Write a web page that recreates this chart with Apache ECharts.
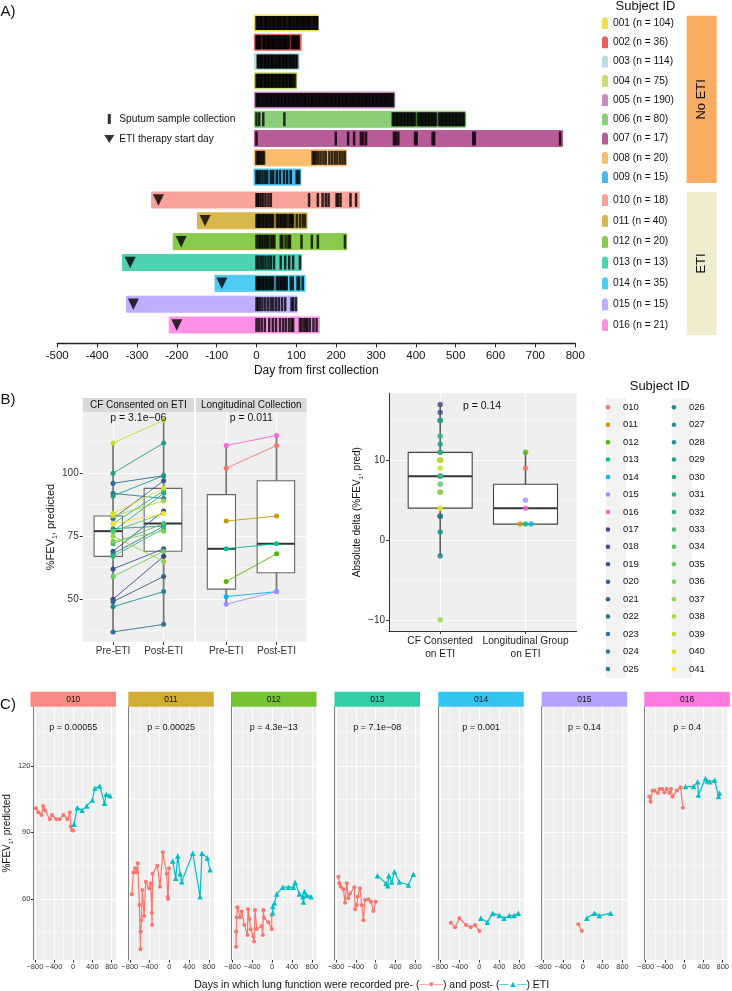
<!DOCTYPE html>
<html><head><meta charset="utf-8">
<script src="https://cdn.jsdelivr.net/npm/echarts@6/dist/echarts.min.js"></script>
<style>html,body{margin:0;padding:0;background:#fff}#c{width:732px;height:991px}</style>
</head><body><div id="c"></div>
<script>
// ================= DATA =================
// ---- Panel A: sampling timeline ----
const idsA1 = ['001','002','003','004','005','006','007','008','009'];
const idsA2 = ['010','011','012','013','014','015','016'];
const nA1 = [104,36,114,75,190,80,17,20,15];
const nA2 = [18,40,20,13,35,15,21];
const barStartA1 = [-5,-5,-5,-5,-5,-5,-5,-6,-6];
const barEndA1 = [154,112,107,101,347,525,768,225,111];
const barStartA2 = [-263,-148,-209,-336,-104,-326,-219];
const barEndA2 = [258,127,226,113,122,102,158];
const etiStartA2 = [-246,-129,-189,-317,-87,-309,-200];
const days001 = [0,3,5,9,12,14,18,21,24,26,30,33,35,39,42,45,47,51,54,57,60,62,66,69,71,74,78,81,84,86,90,93,95,99,102,105,108,111,114,117,120,123,126,129,132,135,138,142,145,148,151,153];
const days002 = [0,2,5,8,10,16,19,22,26,29,32,35,39,42,45,48,52,55,58,61,65,68,71,74,78,81,88,91,94,97,100,103,106];
const days003 = [3,5,9,12,14,18,21,23,27,30,32,36,39,41,45,48,50,54,57,59,63,66,68,72,75,77,81,84,86,90,93,95,99,102];
const days004 = [0,3,5,9,12,14,18,21,23,27,30,32,36,39,41,45,48,50,54,57,59,63,66,68,72,75,77,81,84,86,90,93,97];
const days005 = [0,3,6,10,13,17,20,23,27,30,34,37,40,44,47,51,54,57,61,64,68,71,74,78,81,85,88,91,95,98,102,105,108,112,115,119,122,125,129,132,136,139,142,146,149,153,156,159,163,166,170,173,176,180,183,187,190,193,197,200,204,207,210,214,217,221,224,227,231,234,238,241,244,248,251,255,258,261,265,268,272,275,278,282,285,289,292,295,299,302,306,309,312,316,319,323,326,329,333,336,340,343];
const days006 = [0,7,17,70,342,345,349,352,356,359,363,366,370,373,377,380,384,387,391,394,398,405,409,412,416,419,423,426,430,433,437,440,444,447,451,458,462,465,469,472,476,479,483,486,490,493,497,500,504,507,511,514,518,521];
const days007 = [0,199,230,245,262,268,275,345,350,356,398,402,442,446,544,548,762];
const days008 = [0,4,7,11,15,19,141,145,149,155,161,168,174,183,190,197,203,210,216,222];
const days009 = [0,4,9,15,21,27,36,42,51,59,69,77,86,101,107];
const days010 = [0,3,7,12,17,23,30,36,132,154,166,174,181,201,205,211,236,250];
const days011 = [0,3,6,9,13,16,20,24,27,31,35,38,42,51,54,58,62,65,69,72,76,82,86,89,92,101,109,116,122];
const days012 = [0,5,9,13,17,22,26,30,36,41,45,61,65,73,80,84,113,139,154,222];
const days013 = [0,5,11,17,23,30,36,44,61,72,82,92,109];
const days014 = [0,3,6,9,13,16,20,24,27,31,35,38,42,51,54,58,62,65,69,72,76,86,91,103,107,116];
const days015 = [0,4,9,15,22,29,36,42,49,56,64,72,88,92,99];
const days016 = [0,6,13,21,32,41,49,59,67,74,82,88,92,109,113,119,124,128,134,143,151];
const daysA1 = [days001,days002,days003,days004,days005,days006,days007,days008,days009];
const daysA2 = [days010,days011,days012,days013,days014,days015,days016];
const xTicksA = [-500,800];

// ---- Panel B ----
const idsCF = ['017','018','019','020','021','022','023','024','025','026','027','028','029','030','031','032','033','034','035','036','037','038','039','040','041'];
const preCF  = [50,69,62,82,49,96,37,92,68,47,78,91,100,77,80,67,72,77,59,73,75,83,112,84,80];
const postCF = [67,85,70,97,59,99,40,90,79,53,79,99,112,92,93,78,80,84,69,77,65,89,121,94,84];
const idsLong = ['010','011','012','013','014','015','016'];
const preLong  = [102,81,57,70,51,48,111];
const postLong = [111,83,68,72,53,53,115];
const boxCFPre = [37,67,77,83,112];
const boxCFPost = [40,69,80,94,121];
const boxLongPre = [48,54,70,91.5,111];
const boxLongPost = [53,60.5,72,97,115];
const boxDeltaCF = [-2,4,8,11,17];
const boxDeltaLong = [2,2,4,7,11];
const catsBL = ['Pre-ETI','Post-ETI'];
const catsBR = ['CF Consented\non ETI','Longitudinal Group\non ETI'];
const stripsB = ['CF Consented on ETI','Longitudinal Collection'];
const pB = ['p = 3.1e\u221206','p = 0.011','p = 0.14'];

// ---- Panel C: lung function over time ([day, %FEV1]) ----
const idsC = ['010','011','012','013','014','015','016'];
const pC = ['p = 0.00055','p = 0.00025','p = 4.3e\u221213','p = 7.1e\u221208','p = 0.001','p = 0.14','p = 0.4'];
const c010Pre = [[-776,100.9],[-727,99],[-661,97.8],[-627,101.9],[-587,99.8],[-486,95.9],[-440,97.8],[-353,95.9],[-285,95.9],[-204,97.8],[-117,95.9],[-70,98.9],[-50,92.6],[-22,91.1],[-2,90.8]];
const c010Post = [[18,93.6],[85,101.1],[185,100],[286,101.9],[401,104.6],[454,109.9],[555,110.9],[655,103.1],[690,107.2],[770,106.5]];
const c011Pre = [[-760,62.1],[-727,71.9],[-693,73.8],[-660,71.9],[-640,76.1],[-606,57.3],[-586,37.3],[-580,45.3],[-566,50.5],[-546,64],[-512,52.3],[-478,67.8],[-411,64.8],[-377,67.1],[-357,53.8],[-351,48.3],[-340,71.3],[-244,75],[-190,65.5],[-135,81],[-54,71.3],[-34,61],[-27,60],[-10,73.8]];
const c011Post = [[66,77.1],[127,69.3],[167,79.4],[214,71.3],[248,67.8],[470,80.6],[617,61],[657,80.6],[764,78.4],[819,73.1]];
const c012Pre = [[-728,45.3],[-728,38.5],[-714,51.8],[-701,56.3],[-647,51.8],[-613,54.3],[-560,48.3],[-499,43.8],[-486,55.4],[-459,51],[-432,46.4],[-378,43],[-365,40.8],[-345,55],[-311,46.5],[-210,47.8],[-190,43.8],[-177,55],[-163,51.5],[-76,49.5],[-8,46.5],[-8,52.8]];
const c012Post = [[12,53.8],[12,56.6],[45,58.2],[93,62.2],[214,65.3],[328,65.3],[429,65.3],[464,67.4],[550,62.2],[619,61],[632,58.6],[652,63.4],[700,61.7],[784,61]];
const c013Pre = [[-751,70],[-732,67.1],[-704,65.5],[-651,64.4],[-617,58.3],[-583,67.1],[-550,60.3],[-516,62.5],[-429,65.3],[-415,55.4],[-381,57.3],[-361,61],[-315,64.8],[-281,57.3],[-248,50.4],[-214,59.5],[-147,59.9],[-93,58.7],[-46,54.6],[2,58.7]];
const c013Post = [[35,70.5],[210,67.1],[244,65.9],[264,70.5],[325,67.6],[378,72.3],[478,67.6],[659,66.3],[760,71.1]];
const c014Pre = [[-579,49.3],[-492,47.3],[-405,51.3],[-270,48.3],[-176,47.3],[-89,48.3],[-2,45.6]];
const c014Post = [[26,51.3],[160,49.5],[268,53.6],[401,52.5],[496,51.3],[603,52.5],[698,52.5],[784,53.6]];
const c015Pre = [[-91,48.6],[-22,45.6]];
const c015Post = [[79,51.3],[232,53.6],[333,52.5],[562,53.6]];
const c016Pre = [[-728,106.1],[-700,103.8],[-659,108.8],[-619,108.8],[-546,107.7],[-512,109.5],[-458,109.5],[-411,108],[-365,109.5],[-310,107.7],[-276,109.5],[-244,106.1],[-155,108.8],[-75,110.3],[-28,101.1]];
const c016Post = [[26,110.6],[193,110.6],[280,112.8],[294,106.8],[441,114.3],[482,113.1],[530,112.8],[631,113.5],[712,106.1],[732,107.7]];
const cPre = [c010Pre,c011Pre,c012Pre,c013Pre,c014Pre,c015Pre,c016Pre];
const cPost = [c010Post,c011Post,c012Post,c013Post,c014Post,c015Post,c016Post];
const cXTicks = [-800,-400,0,400,800];
const cXMinor = [-600,-200,200,600];
const cYTicks = [60,90,120];
const cYMinor = [45,75,105,135];

// ================= STYLE =================
const FONT = '"Liberation Sans", Arial, Helvetica, sans-serif';
const PANEL = '#EFEFEF';
const colorsA1 = ['#F2DF4E','#E8615F','#B6E0E4','#C9DB6F','#C88BBF','#8ACE77','#B85C97','#F9BC6C','#46B8EC'];
const colorsA2 = ['#F8A29C','#D6B84D','#87CA4D','#4DD3B4','#4DCCF1','#C0ADFF','#FC90E7'];
const hueCols = ['#F8766D','#C49A00','#53B400','#00C094','#00B6EB','#A58AFF','#FB61D7'];
const stripCols = ['rgba(248,118,109,0.85)','rgba(196,154,0,0.8)','rgba(83,180,0,0.8)','rgba(0,192,148,0.8)','rgba(0,182,235,0.8)','rgba(165,138,255,0.8)','rgba(251,97,215,0.85)'];
const virCols = ['#414487','#3E4C8A','#3B528B','#375B8D','#33638D','#2F6B8E','#2C728E','#297A8E','#26818E','#23898E','#21908C','#1F978B','#1FA088','#22A884','#2AB07F','#35B779','#44BF70','#53C568','#65CB5E','#7AD151','#8FD744','#A5DB36','#BDDF26','#D5E21A','#FDE725'];
const subjColor = {};
idsLong.forEach((id,i)=>subjColor[id]=hueCols[i]);
idsCF.forEach((id,i)=>subjColor[id]=virCols[i]);
const cLefts = [30.5,128.3,231,334.5,438.3,541.7,644.3];
const cW = 85.5, cTop = 706.7, cH = 253.3;
const minus = v => String(v).replace('-', '\u2212');

// ================= BUILD =================
const grids = [
  {left:57.25, top:13.4, width:518, height:173.3},
  {left:57.25, top:189.6, width:518, height:145.8},
  {left:82.7, top:412, width:111.3, height:230, show:true, backgroundColor:PANEL, borderWidth:0},
  {left:196, top:412, width:110.7, height:230, show:true, backgroundColor:PANEL, borderWidth:0},
  {left:389, top:393.3, width:187.7, height:237.7, show:true, backgroundColor:PANEL, borderWidth:0}
];
cLefts.forEach(l=>grids.push({left:l, top:cTop, width:cW, height:cH, show:true, backgroundColor:PANEL, borderWidth:0}));

const white = w => ({show:true, lineStyle:{color:'#fff', width:w}});
const noAx = {show:false};
const fevName = (size) => ({fontSize:size, color:'#111', fontFamily:FONT, lineHeight:size+3,
  rich:{s:{fontSize:size*0.62, verticalAlign:'bottom', lineHeight:size+3, fontFamily:FONT, color:'#111'}}});

const xAxes = [
  {gridIndex:0, type:'value', min:xTicksA[0], max:xTicksA[1], interval:100, show:false},
  {gridIndex:1, type:'value', min:xTicksA[0], max:xTicksA[1], interval:100, offset:8,
   axisLine:{show:true, onZero:false, lineStyle:{color:'#222', width:1.3}}, axisTick:{show:true, length:4, lineStyle:{color:'#222'}},
   axisLabel:{fontSize:11.5, color:'#111', margin:6}, splitLine:noAx,
   name:'Day from first collection', nameLocation:'middle', nameGap:21, nameTextStyle:{fontSize:12, color:'#111'}},
  {gridIndex:2, type:'value', min:0.4, max:2.6, axisLine:{show:false, onZero:false},
   axisTick:{show:true, length:3, customValues:[1,2], lineStyle:{color:'#333'}},
   axisLabel:{customValues:[1,2], formatter:v=>catsBL[Math.round(v)-1], fontSize:10, color:'#333', margin:4}, splitLine:white(1)},
  {gridIndex:3, type:'value', min:0.4, max:2.6, axisLine:{show:false, onZero:false},
   axisTick:{show:true, length:3, customValues:[1,2], lineStyle:{color:'#333'}},
   axisLabel:{customValues:[1,2], formatter:v=>catsBL[Math.round(v)-1], fontSize:10, color:'#333', margin:4}, splitLine:white(1)},
  {gridIndex:4, type:'value', min:0.4, max:2.6, axisLine:{show:true, onZero:false, lineStyle:{color:'#333', width:1}},
   axisTick:{show:true, length:3, customValues:[1,2], lineStyle:{color:'#333'}},
   axisLabel:{customValues:[1,2], formatter:v=>catsBR[Math.round(v)-1], fontSize:10.2, lineHeight:12.7, color:'#222', margin:4}, splitLine:white(1)}
];
cLefts.forEach((l,i)=>xAxes.push({gridIndex:5+i, type:'value', min:-830, max:895, axisLine:{show:false, onZero:false},
  axisTick:{show:true, length:2.5, customValues:cXTicks, lineStyle:{color:'#333'}},
  axisLabel:{customValues:cXTicks, formatter:minus, fontSize:7.5, color:'#333', margin:3}, splitLine:white(1)}));
cLefts.forEach((l,i)=>xAxes.push({gridIndex:5+i, type:'value', min:-830, max:895, axisLine:{show:false, onZero:false},
  axisTick:{show:false, customValues:cXMinor}, axisLabel:noAx, splitLine:white(0.5)}));

const yAxes = [
  {gridIndex:0, type:'category', data:idsA1, inverse:true, show:false},
  {gridIndex:1, type:'category', data:idsA2, inverse:true, show:false},
  {gridIndex:2, type:'value', min:33, max:124.3, axisLine:{show:false, onZero:false},
   axisTick:{show:true, length:3, customValues:[50,75,100], lineStyle:{color:'#333'}},
   axisLabel:{customValues:[50,75,100], fontSize:10, color:'#333', margin:4}, splitLine:white(1),
   name:'%FEV{s|1}, predicted', nameLocation:'middle', nameGap:24, nameTextStyle:fevName(11)},
  {gridIndex:3, type:'value', min:33, max:124.3, axisLine:{show:false, onZero:false},
   axisTick:{show:false, customValues:[50,75,100]}, axisLabel:noAx, splitLine:white(1)},
  {gridIndex:4, type:'value', min:-11.4, max:18.4, axisLine:{show:true, onZero:false, lineStyle:{color:'#333', width:1}},
   axisTick:{show:true, length:3, customValues:[-10,0,10], lineStyle:{color:'#333'}},
   axisLabel:{customValues:[-10,0,10], formatter:minus, fontSize:10, color:'#333', margin:4}, splitLine:white(1),
   name:'Absolute delta (%FEV{s|1}, pred)', nameLocation:'middle', nameGap:21, nameTextStyle:fevName(10)}
];
cLefts.forEach((l,i)=>yAxes.push({gridIndex:5+i, type:'value', min:32.5, max:146.6,
  axisLine:{show:true, onZero:false, lineStyle:{color:'#666', width:0.8}},
  axisTick:{show:i===0, length:2.5, customValues:cYTicks, lineStyle:{color:'#333'}},
  axisLabel:{show:i===0, customValues:cYTicks, fontSize:7.5, color:'#333', margin:3}, splitLine:white(1),
  name: i===0 ? '%FEV{s|1}, predicted' : '', nameLocation:'middle', nameGap:17, nameTextStyle:fevName(10)}));
yAxes.push({gridIndex:2, type:'value', min:33, max:124.3, axisLine:{show:false, onZero:false}, axisLabel:noAx, axisTick:{show:false, customValues:[37.5,62.5,87.5,112.5]}, splitLine:white(0.5)});
yAxes.push({gridIndex:3, type:'value', min:33, max:124.3, axisLine:{show:false, onZero:false}, axisLabel:noAx, axisTick:{show:false, customValues:[37.5,62.5,87.5,112.5]}, splitLine:white(0.5)});
yAxes.push({gridIndex:4, type:'value', min:-11.4, max:18.4, axisLine:{show:false, onZero:false}, axisLabel:noAx, axisTick:{show:false, customValues:[-5,5,15]}, splitLine:white(0.5)});
cLefts.forEach((l,i)=>yAxes.push({gridIndex:5+i, type:'value', min:32.5, max:146.6, axisLine:{show:false, onZero:false}, axisLabel:noAx,
  axisTick:{show:false, customValues:cYMinor}, splitLine:white(0.5)}));

// ---- series ----
const series = [];
function barRender(params, api) {
  const y = api.value(2);
  const p0 = api.coord([api.value(0), y]);
  const p1 = api.coord([api.value(1), y]);
  const h = 16, c = api.visual('color');
  return {type:'rect', shape:{x:p0[0], y:p0[1]-h/2, width:p1[0]-p0[0], height:h},
          style:{fill:c, stroke:c, lineWidth:1}};
}
function addTimeline(ids, ns, starts, ends, days, cols, axis) {
  ids.forEach((id,i)=>series.push({type:'custom', name:id+' (n = '+ns[i]+')', xAxisIndex:axis, yAxisIndex:axis,
    renderItem:barRender, encode:{x:[0,1], y:2}, data:[[starts[i], ends[i], i]], itemStyle:{color:cols[i]}, z:2, silent:true}));
  const pts = [];
  days.forEach((arr,i)=>arr.forEach(d=>pts.push([d, i])));
  series.push({type:'scatter', name:'Sputum sample collection', xAxisIndex:axis, yAxisIndex:axis, data:pts,
    symbol:'rect', symbolSize:[2.5,14], itemStyle:{color:'#000'}, z:3, silent:true});
}
addTimeline(idsA1, nA1, barStartA1, barEndA1, daysA1, colorsA1, 0);
addTimeline(idsA2, nA2, barStartA2, barEndA2, daysA2, colorsA2, 1);
series.push({type:'scatter', name:'ETI therapy start day', xAxisIndex:1, yAxisIndex:1,
  data:etiStartA2.map((d,i)=>[d,i]), symbol:'path://M0,0L10,0L5,11Z', symbolSize:[11,11.5],
  itemStyle:{color:'#000'}, z:4, silent:true});

function boxRenderer(layout, whiskerColor, boxColor, whiskerW) {
  return function (params, api) {
    const x = api.value(0);
    const L = layout[x-1];
    const pLo = api.coord([x, api.value(1)]), pHi = api.coord([x, api.value(5)]);
    const a = api.coord([L[0], api.value(4)]), b = api.coord([L[1], api.value(2)]);
    const m1 = api.coord([L[0], api.value(3)]), m2 = api.coord([L[1], api.value(3)]);
    return {type:'group', children:[
      {type:'line', shape:{x1:pLo[0], y1:pLo[1], x2:pHi[0], y2:pHi[1]}, style:{stroke:whiskerColor, lineWidth:whiskerW}},
      {type:'rect', shape:{x:a[0], y:a[1], width:b[0]-a[0], height:b[1]-a[1]}, style:{fill:'#fff', stroke:boxColor, lineWidth:1.1}},
      {type:'line', shape:{x1:m1[0], y1:m1[1], x2:m2[0], y2:m2[1]}, style:{stroke:'#333', lineWidth:2}}
    ]};
  };
}
const layoutBL = [[0.625,1.185],[1.615,2.36]];
const layoutBR = [[0.625,1.375],[1.625,2.375]];
series.push({type:'custom', xAxisIndex:2, yAxisIndex:2, renderItem:boxRenderer(layoutBL,'#7a7a7a','#666',1.8),
  encode:{x:0, y:[1,2,3,4,5]}, data:[[1].concat(boxCFPre),[2].concat(boxCFPost)], z:2, silent:true});
series.push({type:'custom', xAxisIndex:3, yAxisIndex:3, renderItem:boxRenderer(layoutBL,'#7a7a7a','#666',1.8),
  encode:{x:0, y:[1,2,3,4,5]}, data:[[1].concat(boxLongPre),[2].concat(boxLongPost)], z:2, silent:true});
series.push({type:'custom', xAxisIndex:4, yAxisIndex:4, renderItem:boxRenderer(layoutBR,'#555','#444',1.5),
  encode:{x:0, y:[1,2,3,4,5]}, data:[[1].concat(boxDeltaCF),[2].concat(boxDeltaLong)], z:2, silent:true});

function pairSeries(id, pre, post, axis) {
  const c = subjColor[id];
  return {type:'line', name:id, xAxisIndex:axis, yAxisIndex:axis, data:[[1,pre],[2,post]],
    symbol:'circle', symbolSize:5, showAllSymbol:true, lineStyle:{width:0.9, color:c}, itemStyle:{color:c}, z:3, silent:true};
}
idsLong.forEach((id,i)=>series.push(pairSeries(id, preLong[i], postLong[i], 3)));
idsCF.forEach((id,i)=>series.push(pairSeries(id, preCF[i], postCF[i], 2)));

const deltaItems = [];
idsCF.forEach((id,i)=>deltaItems.push({value:[1, postCF[i]-preCF[i]], itemStyle:{color:subjColor[id]}}));
const longDelta = postLong.map((v,i)=>v-preLong[i]);
const cnt = {}, seen = {};
longDelta.forEach(d=>cnt[d]=(cnt[d]||0)+1);
longDelta.forEach((d,i)=>{
  const k = seen[d]||0; seen[d] = k+1;
  const off = (k-(cnt[d]-1)/2)*0.065;
  deltaItems.push({value:[2+off, d], itemStyle:{color:subjColor[idsLong[i]]}});
});
series.push({type:'scatter', xAxisIndex:4, yAxisIndex:4, data:deltaItems, symbolSize:5.5, z:3, silent:true});

idsC.forEach((id,i)=>{
  series.push({type:'line', xAxisIndex:5+i, yAxisIndex:5+i, data:cPre[i], symbol:'circle', symbolSize:4, showAllSymbol:true,
    lineStyle:{width:1.2, color:'#F8766D'}, itemStyle:{color:'#F8766D'}, z:3, silent:true});
  series.push({type:'line', xAxisIndex:5+i, yAxisIndex:5+i, data:cPost[i], symbol:'triangle', symbolSize:5.5, showAllSymbol:true,
    lineStyle:{width:1.2, color:'#00BFC4'}, itemStyle:{color:'#00BFC4'}, z:3, silent:true});
});

// ---- legends ----
const pin = 'path://M0,3C0,-1 6,-1 6,3L6,12L0,12Z';
const legTxt = {fontSize:10.2, lineHeight:12, color:'#111', fontFamily:FONT};
const legends = [
  {left:602, top:17, orient:'vertical', padding:0, itemWidth:6, itemHeight:12, itemGap:7.25, itemTextGap:5,
   icon:pin, data:idsA1.map((id,i)=>id+' (n = '+nA1[i]+')'), textStyle:legTxt, selectedMode:false},
  {left:602, top:194, orient:'vertical', padding:0, itemWidth:6, itemHeight:12, itemGap:8.83, itemTextGap:5,
   icon:pin, data:idsA2.map((id,i)=>id+' (n = '+nA2[i]+')'), textStyle:legTxt, selectedMode:false},
  {left:104.3, top:113, orient:'vertical', padding:0, itemWidth:10, itemHeight:10, itemGap:8, itemTextGap:6.4,
   data:[{name:'Sputum sample collection', icon:'path://M0,0h3v10h-3z'}, {name:'ETI therapy start day', icon:'path://M0,0L10,0L5,8Z'}],
   textStyle:{fontSize:10.2, lineHeight:12, color:'#111', fontFamily:FONT}, selectedMode:false},
  {left:605.7, top:402.3, orient:'vertical', padding:0, itemWidth:20, itemHeight:4.5, itemGap:7.44, itemTextGap:6,
   icon:'circle', data:idsLong.concat(idsCF.slice(0,9)), textStyle:{fontSize:9.5, lineHeight:10, color:'#111', fontFamily:FONT}, selectedMode:false},
  {left:671.7, top:402.3, orient:'vertical', padding:0, itemWidth:20, itemHeight:4.5, itemGap:7.44, itemTextGap:6,
   icon:'circle', data:idsCF.slice(9), textStyle:{fontSize:9.5, lineHeight:10, color:'#111', fontFamily:FONT}, selectedMode:false}
];

// ---- graphic (labels, strips) ----
function txt(x, y, text, size, opt) {
  return Object.assign({type:'text', x:x, y:y, silent:true, z:50,
    style:Object.assign({text:text, fontSize:size, fontFamily:FONT, fill:'#111', align:'center', textAlign:'center', verticalAlign:'middle', textVerticalAlign:'middle'}, (opt&&opt.style)||{})},
    opt&&opt.rotation!==undefined?{rotation:opt.rotation}:{});
}
const rect = (x,y,w,h,fill) => ({type:'rect', shape:{x:x,y:y,width:w,height:h}, style:{fill:fill}, silent:true, z:40});
const G = [
  txt(8, 12, 'A)', 15), txt(8, 400, 'B)', 15), txt(8, 705, 'C)', 15),
  txt(645.5, 6, 'Subject ID', 13), txt(659.7, 386, 'Subject ID', 13),
  rect(686.7, 15.7, 30, 167.3, '#F6AC61'), txt(701.7, 99.3, 'No ETI', 13, {rotation:Math.PI/2}),
  rect(686.7, 191.7, 30, 143.3, '#F0ECCE'), txt(701.7, 263.5, 'ETI', 13, {rotation:Math.PI/2}),
  rect(82.7, 398, 111.3, 14, '#D9D9D9'), txt(138.3, 405, stripsB[0], 10),
  rect(196, 398, 110.7, 14, '#D9D9D9'), txt(251.3, 405, stripsB[1], 10),
  txt(138.3, 418.3, pB[0], 10.5), txt(251.3, 418.3, pB[1], 10.5), txt(482, 405.7, pB[2], 10.5),
  Object.assign(rect(606, 398, 20, 280, '#F2F2F2'), {z:-1}), Object.assign(rect(671.7, 398, 20, 280, '#F2F2F2'), {z:-1}),
  {type:'text', x:371.7, y:985, silent:true, z:50, style:{text:'Days in which lung function were recorded pre- ({p|\u2014\u25CF\u2014}) and post- ({q|\u2014\u25B2\u2014}) ETI',
    fontSize:10.5, fontFamily:FONT, fill:'#111', align:'center', textAlign:'center', verticalAlign:'middle', textVerticalAlign:'middle',
    rich:{p:{fill:'#F8766D', fontSize:9}, q:{fill:'#00BFC4', fontSize:9}}}}
];
idsC.forEach((id,i)=>{
  G.push(rect(cLefts[i], 691.7, cW, 15, stripCols[i]));
  G.push(txt(cLefts[i]+cW/2, 699.2, id, 8.5));
  G.push(txt(cLefts[i]+cW/2, 727.7, pC[i], 9));
});

const chart = echarts.init(document.getElementById('c'), null, {renderer:'canvas', width:732, height:991});
chart.setOption({
  animation:false,
  backgroundColor:'#fff',
  textStyle:{fontFamily:FONT},
  grid:grids, xAxis:xAxes, yAxis:yAxes, series:series, legend:legends,
  graphic:{elements:G}
});
</script></body></html>
